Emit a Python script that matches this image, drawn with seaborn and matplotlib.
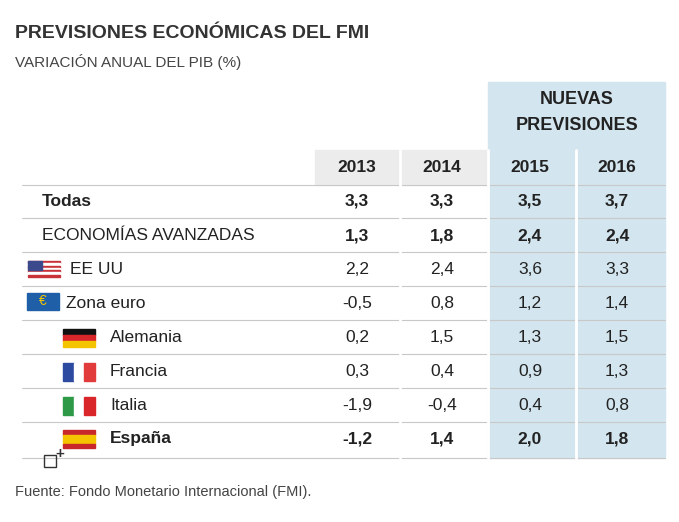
import matplotlib.pyplot as plt
import matplotlib.patches as mpatches
import seaborn as sns

years = ["2013", "2014", "2015", "2016"]
rows = ["Todas", "ECONOMÍAS AVANZADAS", "EE UU", "Zona euro",
        "Alemania", "Francia", "Italia", "España"]
v2013 = ["3,3", "1,3", "2,2", "-0,5", "0,2", "0,3", "-1,9", "-1,2"]
v2014 = ["3,3", "1,8", "2,4", "0,8", "1,5", "0,4", "-0,4", "1,4"]
v2015 = ["3,5", "2,4", "3,6", "1,2", "1,3", "0,9", "0,4", "2,0"]
v2016 = ["3,7", "2,4", "3,3", "1,4", "1,5", "1,3", "0,8", "1,8"]
bold_rows = {"Todas", "España"}
bold_values = {"Todas", "ECONOMÍAS AVANZADAS", "España"}

sns.set_theme(style="white")
plt.rcParams["font.family"] = ["Liberation Sans", "DejaVu Sans"]

fig = plt.figure(figsize=(6.79, 5.22), dpi=100)
ax = fig.add_axes([0, 0, 1, 1])
ax.set_xlim(0, 679)
ax.set_ylim(522, 0)
ax.axis("off")

txt = "#222222"
blue = "#d3e5ee"
grey = "#ececec"
col_x = [357, 442, 530, 617]
col_edges = [315, 400, 488, 576, 665]
row_y = [201, 236, 269, 303, 338, 372, 406, 439]
line_y = [185, 218, 252, 286, 320, 354, 388, 422, 458]

ax.text(15, 33, "PREVISIONES ECONÓMICAS DEL FMI", fontsize=14, fontweight="bold",
        color="#333333", va="center")
ax.text(15, 62, "VARIACIÓN ANUAL DEL PIB (%)", fontsize=11, color="#444444", va="center")

ax.add_patch(mpatches.Rectangle((488, 82), 177, 376, color=blue, zorder=0))
ax.add_patch(mpatches.Rectangle((315, 150), 173, 35, color=grey, zorder=0))
ax.text(577, 100, "NUEVAS", fontsize=13, fontweight="bold", ha="center", va="center", color=txt)
ax.text(577, 125, "PREVISIONES", fontsize=13, fontweight="bold", ha="center", va="center", color=txt)
for x, y in zip(col_x, years):
    ax.text(x, 168, y, fontsize=12.5, fontweight="bold", ha="center", va="center", color=txt)

for y in line_y:
    ax.plot([22, 665], [y, y], color="#c8c8c8", lw=0.8, zorder=1)
for x in col_edges[1:-1]:
    ax.plot([x, x], [150, 458], color="white", lw=2, zorder=1)

label_x = [42, 42, 70, 66, 110, 110, 110, 110]
for i, name in enumerate(rows):
    y = row_y[i]
    ax.text(label_x[i], y, name, fontsize=12.5, va="center", color=txt,
            fontweight="bold" if name in bold_rows else "normal")
    vals = [v2013[i], v2014[i], v2015[i], v2016[i]]
    for x, v in zip(col_x, vals):
        ax.text(x, y, v, fontsize=12.5, ha="center", va="center", color=txt,
                fontweight="bold" if name in bold_values else "normal")

# flags
def stripes(x, y, w, h, colors, vertical=False):
    n = len(colors)
    for k, c in enumerate(colors):
        if vertical:
            ax.add_patch(mpatches.Rectangle((x + k * w / n, y), w / n, h, color=c, zorder=2))
        else:
            ax.add_patch(mpatches.Rectangle((x, y + k * h / n), w, h / n, color=c, zorder=2))

stripes(28, 261, 32, 16, ["#c8333a", "white"] * 3 + ["#c8333a"])
ax.add_patch(mpatches.Rectangle((28, 261), 14, 9, color="#3b4a8c", zorder=3))
ax.add_patch(mpatches.Rectangle((27, 293), 32, 17, color="#1f5fa8", zorder=2))
ax.text(43, 301, "€", fontsize=10, color="#f2c500", ha="center", va="center", zorder=3)
stripes(63, 329, 32, 18, ["#111111", "#d9262b", "#f5c400"])
stripes(63, 363, 32, 18, ["#2b4aa0", "white", "#e23b3b"], vertical=True)
stripes(63, 397, 32, 18, ["#2e9a47", "white", "#d9262b"], vertical=True)
stripes(63, 430, 32, 18, ["#c8282c", "#f5c400", "#f5c400", "#c8282c"])

ax.add_patch(mpatches.Rectangle((44, 455), 12, 12, fill=False, ec="#333333", lw=1))
ax.text(60, 454, "+", fontsize=11, fontweight="bold", ha="center", va="center", color="#333333")

ax.text(15, 492, "Fuente: Fondo Monetario Internacional (FMI).", fontsize=10.5,
        color="#444444", va="center")

fig.savefig("out.png", dpi=100)
